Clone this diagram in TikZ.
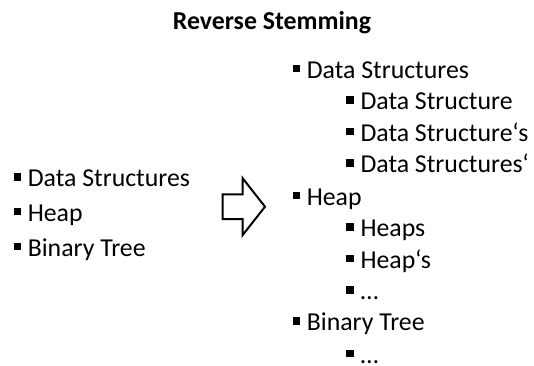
\documentclass[tikz,border=0pt]{standalone}
\usepackage{fontspec}
\setmainfont{Carlito}
\newcommand{\sqbul}{\rule[6pt]{7.3pt}{7.3pt}\hspace{7pt}}
\begin{document}
\begin{tikzpicture}[x=1pt,y=-1pt,
  txt/.style={anchor=base west,inner sep=0pt,font=\fontsize{25.8}{31}\selectfont},
  heading/.style={anchor=base,inner sep=0pt,font=\fontsize{25.8}{31}\selectfont\bfseries},
  blockarrow/.style={draw=black,line width=2pt,line join=miter,fill=white}]
\useasboundingbox (0,0) rectangle (534,365);

% title
\node[heading] (title) at (272,29.3) {Reverse Stemming};

% left list of query terms
\node[txt] (l1) at (13.3,186.7) {\sqbul Data Structures};
\node[txt] (l2) at (13.3,221.2) {\sqbul Heap};
\node[txt] (l3) at (13.3,256.2) {\sqbul Binary Tree};

% hollow block arrow
\draw[blockarrow] (222.7,194.3) -- (242.7,194.3) -- (242.7,178.3) -- (265,206.7)
  -- (242.7,235) -- (242.7,219) -- (222.7,219) -- cycle;

% right list of expanded terms
\node[txt] (r1)  at (292.3,78.3)  {\sqbul Data Structures};
\node[txt] (r1a) at (346,109.6)   {\sqbul Data Structure};
\node[txt] (r1b) at (346,141)     {\sqbul Data Structure‘s};
\node[txt] (r1c) at (346,172.5)   {\sqbul Data Structures‘};
\node[txt] (r2)  at (292.3,205)   {\sqbul Heap};
\node[txt] (r2a) at (346,236.7)   {\sqbul Heaps};
\node[txt] (r2b) at (346,268.3)   {\sqbul Heap‘s};
\node[txt] (r2c) at (346,299.5)   {\sqbul …};
\node[txt] (r3)  at (292.3,330.5) {\sqbul Binary Tree};
\node[txt] (r3a) at (346,363.3)   {\sqbul …};
\end{tikzpicture}
\end{document}
